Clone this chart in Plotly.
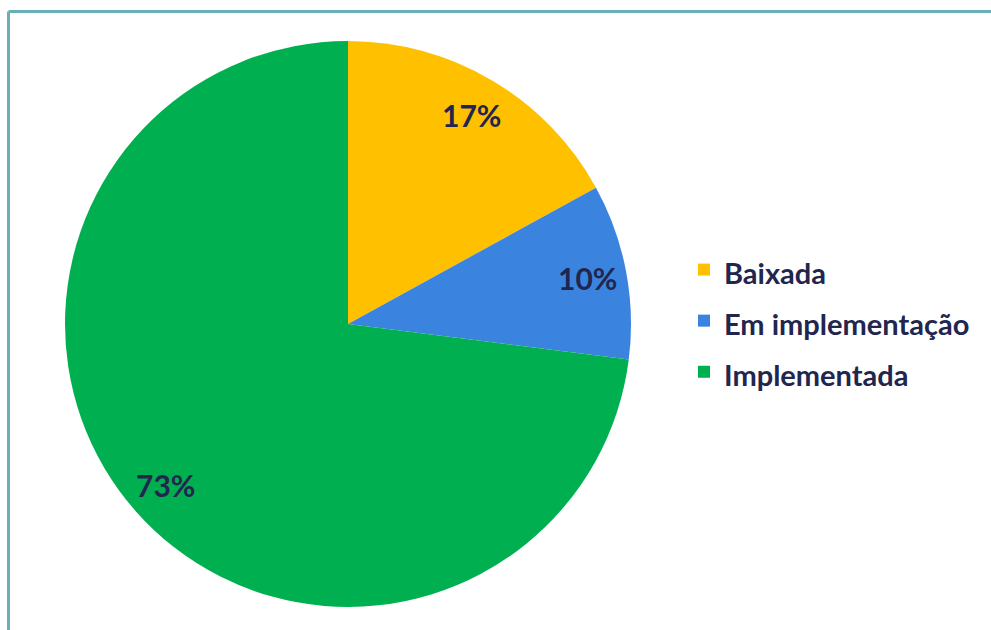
import math
import plotly.graph_objects as go

categories = ["Baixada", "Em implementação", "Implementada"]
values = [17, 10, 73]
colors = ["#FFC000", "#3A84DF", "#00B050"]

W, H = 991, 630
cx, cy, R = 348, 324, 283  # pie centre / radius in px
text_color = "#22264F"
font_family = "Lato, 'Open Sans', sans-serif"

fig = go.Figure()
fig.add_trace(go.Pie(
    labels=["<span style='font-size:29px'><b>%s</b></span>" % c for c in categories],
    values=values,
    marker=dict(colors=colors, line=dict(width=0)),
    sort=False,
    direction="clockwise",
    rotation=0,
    textinfo="none",
    hoverinfo="label+percent",
    domain=dict(x=[(cx - R) / W, (cx + R) / W], y=[1 - (cy + R) / H, 1 - (cy - R) / H]),
    showlegend=True,
))

# percentage labels placed along each slice's mid-angle
total = sum(values)
cum = 0
annotations = []
for v in values:
    mid = (cum + v / 2) / total
    cum += v
    th = 2 * math.pi * mid
    f = 0.86
    px = cx + R * f * math.sin(th)
    py = cy - R * f * math.cos(th)
    annotations.append(dict(
        x=px / W, y=1 - py / H, xref="paper", yref="paper",
        text="<b>%d%%</b>" % round(100 * v / total), showarrow=False,
        font=dict(size=30, color=text_color, family=font_family),
        xanchor="center", yanchor="middle",
    ))

shapes = [
    dict(type="line", xref="paper", yref="paper", x0=8.5 / W, x1=1.0, y0=1 - 11.5 / H, y1=1 - 11.5 / H,
         line=dict(color="#6AAFB6", width=3)),
    dict(type="line", xref="paper", yref="paper", x0=8.5 / W, x1=8.5 / W, y0=0, y1=1 - 11.5 / H,
         line=dict(color="#6AAFB6", width=3)),
]

fig.update_layout(
    width=W, height=H,
    margin=dict(l=0, r=0, t=0, b=0),
    paper_bgcolor="white",
    plot_bgcolor="white",
    annotations=annotations,
    shapes=shapes,
    legend=dict(
        x=684 / W, y=1 - 321 / H, xanchor="left", yanchor="middle",
        font=dict(size=37, color=text_color, family=font_family),
        bgcolor="rgba(0,0,0,0)",
        itemclick=False,
    ),
)

fig.write_html("out.html")
